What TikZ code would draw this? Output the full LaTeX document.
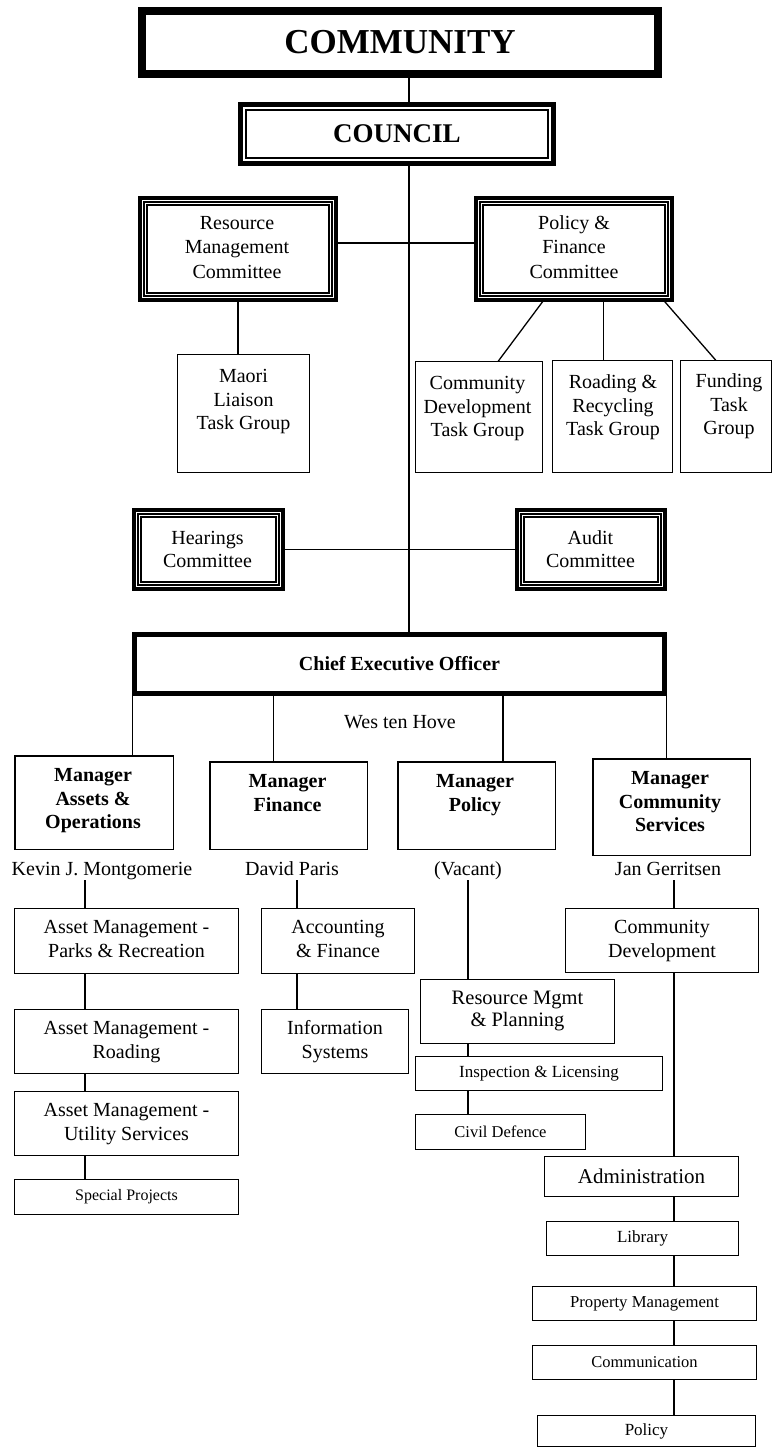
\documentclass[tikz,border=0pt]{standalone}
\usepackage{fontspec}
\setmainfont{Liberation Serif}
\newcommand{\myfs}[2]{\fontsize{#1pt}{#2pt}\selectfont}
\begin{document}
\begin{tikzpicture}[x=1pt,y=-1pt,
  every node/.style={inner sep=0pt, outer sep=0pt},
  conn/.style={line width=1.3pt},
  box/.style={draw, line width=1.4pt, align=center, font=\myfs{20}{24}},
  commbox/.style={draw, line width=7pt},
  tgbox/.style={draw, line width=1.3pt},
  mgrbox/.style={draw, line width=1.5pt},
  txt/.style={align=center, anchor=north, font=\myfs{20}{23.5}},
  mgrtxt/.style={align=center, anchor=north, font=\bfseries\myfs{20}{23.5}},
  person/.style={anchor=base, text height=14pt, text depth=5pt, font=\myfs{20}{24}},
]
\useasboundingbox (0,0) rectangle (774,1448);

% top levels
\node[draw, line width=8pt, minimum width=516pt, minimum height=63pt, font=\bfseries\myfs{35}{40}] (community) at (400,42.5) {COMMUNITY};
\node[draw, line width=5pt, minimum width=313pt, minimum height=59pt, font=\bfseries\myfs{27}{32}] (council) at (397,134) {COUNCIL};

% committees
\node[commbox, minimum width=193pt, minimum height=99pt] (rmc) at (238,249) {};
\node[txt, font=\myfs{20}{24.5}] (rmct) at (237,211.9) {\strut Resource\\Management\\Committee};
\node[commbox, minimum width=193pt, minimum height=99pt] (pf) at (574,249) {};
\node[txt, font=\myfs{20}{24.5}] (pft) at (574,211.9) {\strut Policy \&\\Finance\\Committee};

% task groups
\node[tgbox, minimum width=132pt, minimum height=118pt] (maori) at (243.5,413.5) {};
\node[txt] (maorit) at (243.5,366.5) {\strut Maori\\Liaison\\Task Group};
\node[tgbox, minimum width=127pt, minimum height=111pt] (cdtg) at (479,417) {};
\node[txt] (cdtgt) at (477.5,373.5) {\strut Community\\Development\\Task Group};
\node[tgbox, minimum width=120pt, minimum height=112pt] (roadtg) at (612.5,416.5) {};
\node[txt] (roadtgt) at (613,372.5) {\strut Roading \&\\Recycling\\Task Group};
\node[tgbox, minimum width=91pt, minimum height=112pt] (fundtg) at (726,416.5) {};
\node[txt] (fundtgt) at (729,371.5) {\strut Funding\\Task\\Group};

% hearings / audit
\node[commbox, minimum width=146pt, minimum height=76pt] (hear) at (208.5,549.5) {};
\node[txt, font=\myfs{20}{23}] (heart) at (207.5,527.9) {\strut Hearings\\Committee};
\node[commbox, minimum width=145pt, minimum height=76pt] (audit) at (591,549.5) {};
\node[txt, font=\myfs{20}{23}] (auditt) at (590.5,527.9) {\strut Audit\\Committee};

% CEO
\node[draw, line width=5pt, minimum width=530pt, minimum height=59pt, font=\bfseries\myfs{20}{24}] (ceo) at (399.5,664) {Chief Executive Officer};
\node[person] (wes) at (400,728) {Wes ten Hove};

% managers
\node[mgrbox, minimum width=158.5pt, minimum height=93.5pt] (mgra) at (94,802.5) {};
\node[mgrtxt] (mgrat) at (93,765.5) {\strut Manager\\Assets \&\\Operations};
\node[mgrbox, minimum width=157.5pt, minimum height=87.5pt] (mgrf) at (288.5,805.5) {};
\node[mgrtxt] (mgrft) at (287.5,771.5) {\strut Manager\\Finance};
\node[mgrbox, minimum width=157.5pt, minimum height=87.5pt] (mgrp) at (476.5,805.5) {};
\node[mgrtxt] (mgrpt) at (475,771.5) {\strut Manager\\Policy};
\node[mgrbox, minimum width=157.5pt, minimum height=96.5pt] (mgrc) at (671.5,807) {};
\node[mgrtxt] (mgrct) at (670,768.5) {\strut Manager\\Community\\Services};

% people
\node[person] (kevin) at (102,875) {Kevin J. Montgomerie};
\node[person] (david) at (292,875) {David Paris};
\node[person] (vacant) at (468,875) {(Vacant)};
\node[person] (jan) at (668,875) {Jan Gerritsen};

% assets column
\node[box, minimum width=223.5pt, minimum height=64.5pt] (parks) at (126.5,941) {\strut Asset Management -\\Parks \& Recreation\strut};
\node[box, minimum width=223.5pt, minimum height=63.5pt] (aroad) at (126.5,1041.5) {\strut Asset Management -\\Roading\strut};
\node[box, minimum width=223.5pt, minimum height=63.5pt] (util) at (126.5,1123.5) {\strut Asset Management -\\Utility Services\strut};
\node[box, minimum width=223.5pt, minimum height=34.5pt, font=\myfs{16}{19}] (special) at (126.5,1197) {Special Projects};

% finance column
\node[box, minimum width=152.5pt, minimum height=64.5pt] (acc) at (338,941) {\strut Accounting\\\& Finance\strut};
\node[box, minimum width=146.5pt, minimum height=63.5pt] (info) at (335,1041.5) {\strut Information\\Systems\strut};

% policy column
\node[box, minimum width=193.5pt, minimum height=63.5pt, font=\myfs{20.5}{22}] (rmp) at (517.5,1011.5) {\strut Resource Mgmt\\\& Planning\strut};
\node[box, minimum width=246.5pt, minimum height=33.5pt, font=\myfs{17}{20}] (insp) at (539,1073.5) {Inspection \& Licensing};
\node[box, minimum width=169.5pt, minimum height=34.5pt, font=\myfs{16.5}{20}] (civil) at (500.5,1132) {Civil Defence};

% community services column
\node[box, minimum width=192.5pt, minimum height=63.5pt] (cd) at (662,940.5) {\strut Community\\Development\strut};
\node[box, minimum width=193.5pt, minimum height=39.5pt, font=\myfs{21}{24}] (admin) at (641.5,1176.5) {Administration};
\node[box, minimum width=191.5pt, minimum height=33.5pt, font=\myfs{17}{20}] (library) at (642.5,1238.5) {Library};
\node[box, minimum width=223.5pt, minimum height=33.5pt, font=\myfs{16.7}{20}] (prop) at (644.5,1303.5) {Property Management};
\node[box, minimum width=223.5pt, minimum height=33.5pt, font=\myfs{16.5}{20}] (commn) at (644.5,1362.5) {Communication};
\node[box, minimum width=217.5pt, minimum height=31pt, font=\myfs{17}{20}] (policy) at (646.5,1431) {Policy};

% inner frames
\draw[line width=2pt] ([xshift=5.5pt,yshift=-5.5pt]council.north west) rectangle ([xshift=-5.5pt,yshift=5.5pt]council.south east);
\foreach \n in {rmc,pf,hear,audit}{
  \draw[white, line width=1.2pt] ([xshift=1.1pt,yshift=-1.1pt]\n.north west) rectangle ([xshift=-1.1pt,yshift=1.1pt]\n.south east);
  \draw[line width=1.1pt] ([xshift=5.5pt,yshift=-5.5pt]\n.north west) rectangle ([xshift=-5.5pt,yshift=5.5pt]\n.south east);
}

% connectors
\coordinate (spine) at (409,0);
\coordinate (hrow) at (0,243);
\draw[conn] (spine |- community.south) -- (spine |- council.north);
\draw[conn] (spine |- council.south) -- (spine |- ceo.north);
\draw[conn] (rmc.east |- hrow) -- (pf.west |- hrow);
\draw[conn] (rmc.south) -- (rmc.south |- maori.north);
\draw[conn] ([xshift=-29pt]pf.south) -- ([xshift=19pt]cdtg.north);
\draw[conn] ([xshift=-9pt]roadtg.north) -- ([xshift=-9pt]roadtg.north |- pf.south);
\draw[conn] ([xshift=88pt]pf.south) -- ([xshift=-10pt]fundtg.north);
\draw[conn] (hear) -- (audit);

\coordinate (cA) at (132.5,0);
\coordinate (cF) at (273.5,0);
\coordinate (cP) at (503,0);
\coordinate (cC) at (666.5,0);
\draw[conn] (cA |- ceo.south) -- (cA |- mgra.north);
\draw[conn] (cF |- ceo.south) -- (cF |- mgrf.north);
\draw[conn] (cP |- ceo.south) -- (cP |- mgrp.north);
\draw[conn] (cC |- ceo.south) -- (cC |- mgrc.north);

\coordinate (nA) at (85,0);
\coordinate (nF) at (297,0);
\coordinate (nP) at (468,0);
\coordinate (nC) at (674,0);
\draw[conn] (nA |- kevin.south) -- (nA |- parks.north);
\draw[conn] (nA |- parks.south) -- (nA |- aroad.north);
\draw[conn] (nA |- aroad.south) -- (nA |- util.north);
\draw[conn] (nA |- util.south) -- (nA |- special.north);
\draw[conn] (nF |- david.south) -- (nF |- acc.north);
\draw[conn] (nF |- acc.south) -- (nF |- info.north);
\draw[conn] (nP |- vacant.south) -- (nP |- rmp.north);
\draw[conn] (nP |- rmp.south) -- (nP |- insp.north);
\draw[conn] (nP |- insp.south) -- (nP |- civil.north);
\draw[conn] (nC |- jan.south) -- (nC |- cd.north);
\draw[conn] (nC |- cd.south) -- (nC |- admin.north);
\draw[conn] (nC |- admin.south) -- (nC |- library.north);
\draw[conn] (nC |- library.south) -- (nC |- prop.north);
\draw[conn] (nC |- prop.south) -- (nC |- commn.north);
\draw[conn] (nC |- commn.south) -- (nC |- policy.north);
\end{tikzpicture}
\end{document}
